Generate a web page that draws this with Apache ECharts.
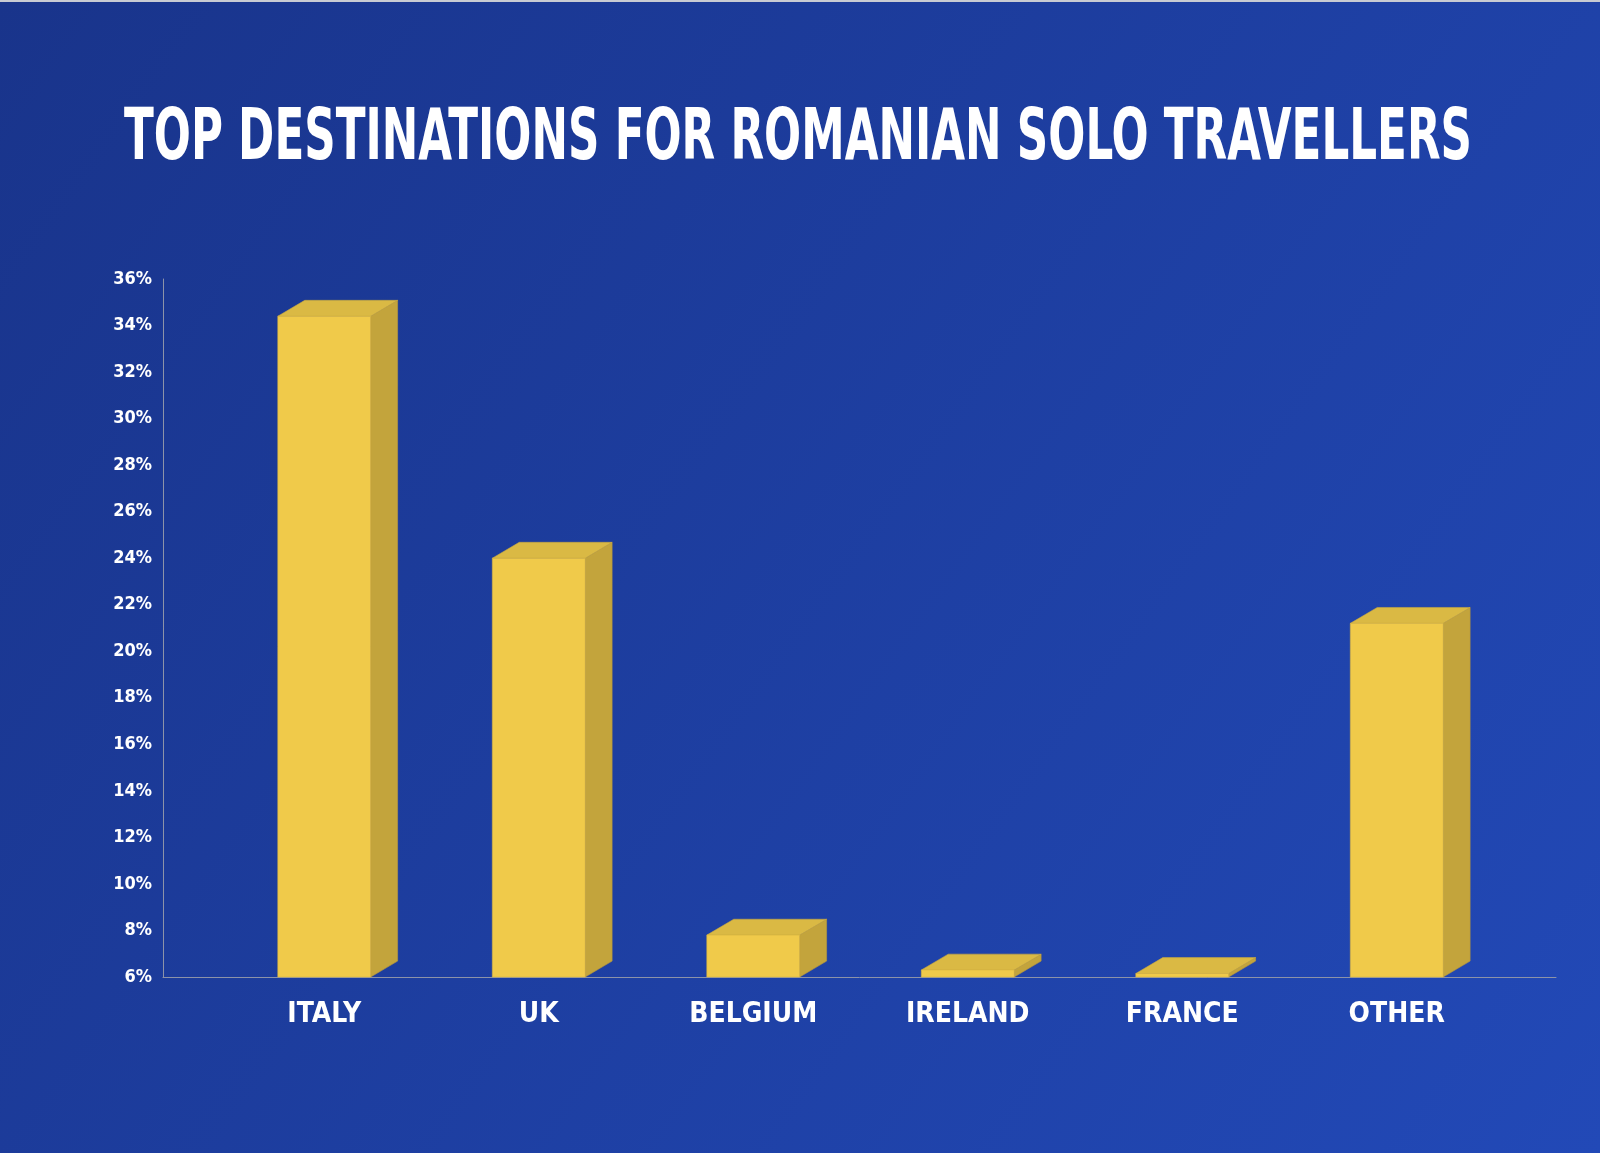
<!DOCTYPE html>
<html>
<head>
<meta charset="utf-8">
<script src="https://cdn.jsdelivr.net/npm/echarts@6/dist/echarts.min.js"></script>
<style>
html,body{margin:0;padding:0;background:#1d3ea0;}
#chart{width:1600px;height:1153px;}
</style>
</head>
<body>
<div id="chart"></div>
<script>
var titleText = 'TOP DESTINATIONS FOR ROMANIAN SOLO TRAVELLERS';
var categories = ['ITALY', 'UK', 'BELGIUM', 'IRELAND', 'FRANCE', 'OTHER'];
var shares = [34.4, 24.0, 7.8, 6.3, 6.15, 21.2];
var yMin = 6, yMax = 36, yStep = 2;

var FONT = '"Liberation Sans Narrow", "DejaVu Sans Condensed", "Roboto Condensed", "Arial Narrow", sans-serif';

// measure title to stretch it across the same width as in the reference
var titleSize = 72;
var titleWidth = 1348;
var cv = document.createElement('canvas').getContext('2d');
cv.font = 'bold ' + titleSize + 'px ' + FONT;
var measured = cv.measureText(titleText).width || titleWidth;
var titleScale = titleWidth / measured;

var chart = echarts.init(document.getElementById('chart'));

var FRONT = '#f0ca4a', TOP = '#dab944', SIDE = '#c3a43c';

function renderBar(params, api) {
  var idx = api.value(0);
  var val = api.value(1);
  var top = api.coord([idx, val]);
  var base = api.coord([idx, yMin]);
  var band = api.size([1, 0])[0];
  var w = band * 0.433;
  var dx = w * 0.29, dy = dx * 0.59;
  var xl = top[0] - w / 2, xr = top[0] + w / 2;
  var yt = top[1], yb = base[1];
  return {
    type: 'group',
    children: [
      { type: 'polygon', shape: { points: [[xr, yt], [xr + dx, yt - dy], [xr + dx, yb - dy], [xr, yb]] },
        style: { fill: SIDE, stroke: '#b8993a', lineWidth: 0.6 } },
      { type: 'polygon', shape: { points: [[xl, yt], [xl + dx, yt - dy], [xr + dx, yt - dy], [xr, yt]] },
        style: { fill: TOP, stroke: '#c9a93f', lineWidth: 0.6 } },
      { type: 'rect', shape: { x: xl, y: yt, width: w, height: yb - yt },
        style: { fill: FRONT, stroke: '#d9b642', lineWidth: 0.6 } }
    ]
  };
}

var barData = shares.map(function (v, i) { return [i, v]; });

var option = {
  backgroundColor: new echarts.graphic.LinearGradient(0, 0, 1, 1, [
    { offset: 0, color: '#19348b' },
    { offset: 1, color: '#2249b7' }
  ]),
  animation: false,
  graphic: [
    { type: 'rect', shape: { x: 0, y: 0, width: 1600, height: 2 }, style: { fill: '#c8cbd3' } },
    { type: 'text', x: 798, y: 140, scaleX: titleScale, scaleY: 1,
      style: { text: titleText, font: 'bold ' + titleSize + 'px ' + FONT, fill: '#ffffff',
               align: 'center', verticalAlign: 'middle' } }
  ],
  grid: [
    { left: 163, right: 44, top: 279, bottom: 176 },
    { left: 217, right: 96, top: 279, bottom: 176 }
  ],
  xAxis: [
    { type: 'category', gridIndex: 0, data: categories,
      axisLine: { lineStyle: { color: '#8c93a8', width: 1 } },
      axisTick: { show: false }, axisLabel: { show: false }, splitLine: { show: false } },
    { type: 'category', gridIndex: 1, data: categories,
      axisLine: { show: false }, axisTick: { show: false },
      axisLabel: { color: '#ffffff', fontFamily: FONT, fontWeight: 'bold', fontSize: 28, margin: 24 } }
  ],
  yAxis: [
    { type: 'value', gridIndex: 0, min: yMin, max: yMax, interval: yStep,
      axisLine: { show: true, lineStyle: { color: '#8c93a8', width: 1 } },
      axisTick: { show: false }, splitLine: { show: false },
      axisLabel: { color: '#ffffff', fontFamily: FONT, fontWeight: 'bold', fontSize: 18, margin: 11,
                   formatter: '{value}%' } },
    { type: 'value', gridIndex: 1, min: yMin, max: yMax, interval: yStep, show: false }
  ],
  series: [
    { type: 'custom', xAxisIndex: 1, yAxisIndex: 1, renderItem: renderBar,
      encode: { x: 0, y: 1 }, data: barData }
  ]
};
chart.setOption(option);
</script>
</body>
</html>
